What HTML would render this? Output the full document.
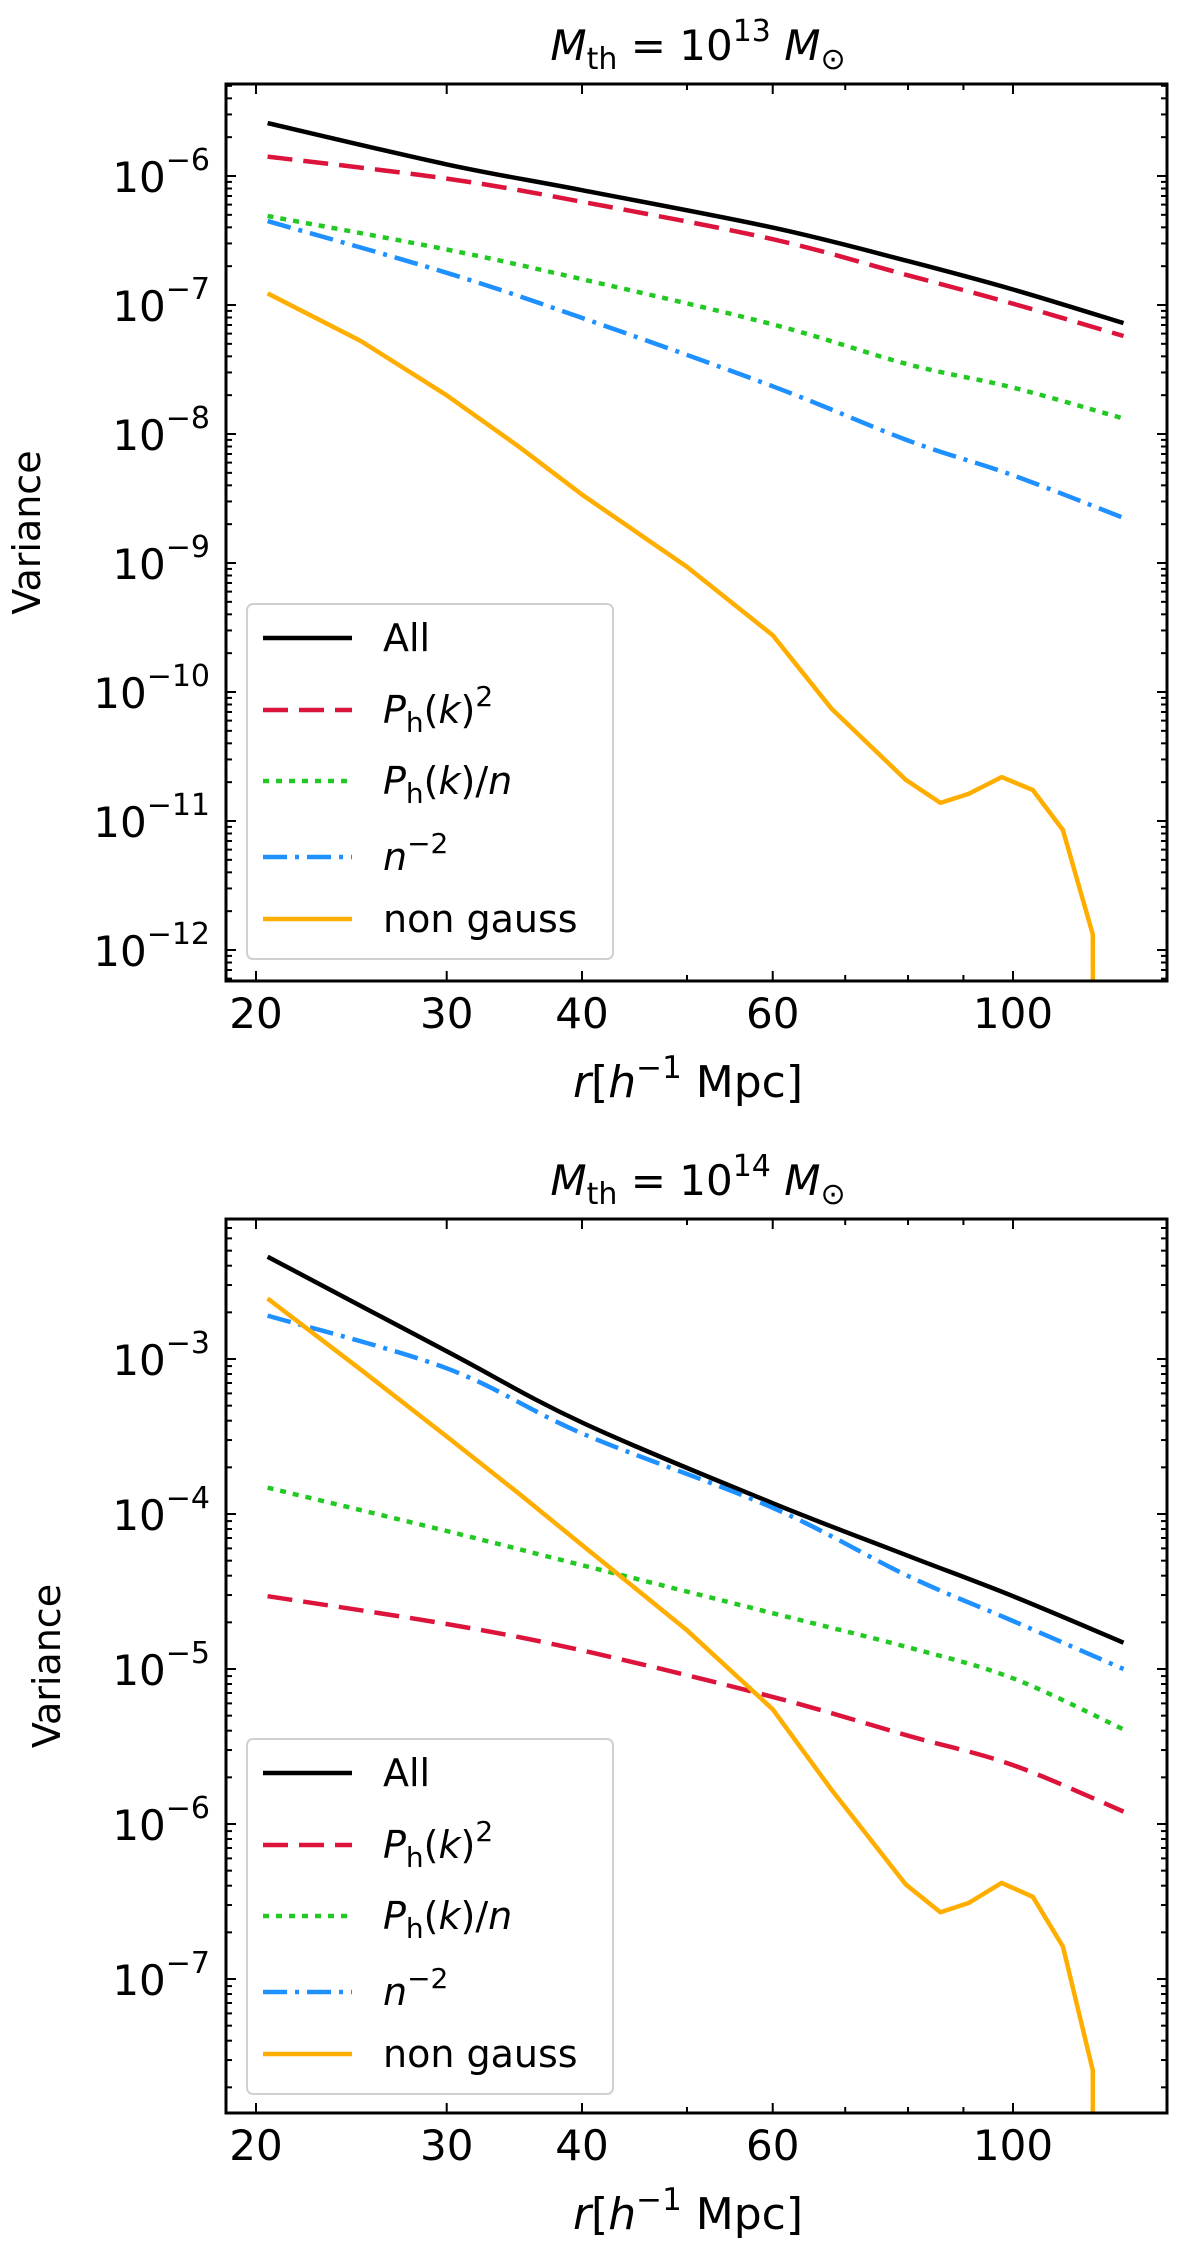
<!DOCTYPE html>
<html><head><meta charset="utf-8"><style>
html,body{margin:0;padding:0;background:#fff;width:1200px;height:2264px;overflow:hidden}
svg text{font-family:"DejaVu Sans","Liberation Sans",sans-serif;fill:#000}
</style></head><body>
<svg id="fig" width="1200" height="2264" viewBox="0 0 1200 2264" xmlns="http://www.w3.org/2000/svg"></svg>
<script>
const rGrid = [20.5, 30, 40, 60, 80, 100, 126.5];
const topAll = [-5.59, -5.91, -6.11, -6.40, -6.66, -6.88, -7.14];
const topPk2 = [-5.85, -6.02, -6.20, -6.49, -6.77, -6.99, -7.24];
const topPkn = [-6.31, -6.57, -6.80, -7.15, -7.46, -7.64, -7.88];
const topN2 = [-6.35, -6.75, -7.10, -7.63, -8.05, -8.32, -8.65];
const ngR = [20.5, 25, 30, 35, 40, 50, 60, 68, 79.6, 85.7, 91, 97.6, 104.3, 111.2, 118.5, 118.6];
const topNG = [-6.91, -7.28, -7.70, -8.10, -8.47, -9.03, -9.56, -10.13, -10.68, -10.86, -10.79, -10.66, -10.76, -11.07, -11.88, -13.5];
const botAll = [-2.34, -2.95, -3.41, -3.93, -4.27, -4.53, -4.83];
const botPk2 = [-4.53, -4.71, -4.88, -5.18, -5.43, -5.62, -5.92];
const botPkn = [-3.83, -4.11, -4.33, -4.64, -4.86, -5.06, -5.39];
const botN2 = [-2.72, -3.06, -3.48, -3.96, -4.40, -4.69, -5.00];
const botNG = [-2.61, -3.07, -3.50, -3.87, -4.20, -4.75, -5.26, -5.78, -6.39, -6.57, -6.51, -6.38, -6.47, -6.79, -7.59, -9.5];
const xTicks = [20, 30, 40, 60, 100];
const xMinor = [50, 70, 80, 90];
const topExps = [-6, -7, -8, -9, -10, -11, -12];
const botExps = [-3, -4, -5, -6, -7];

const NS = "http://www.w3.org/2000/svg";
const svg = document.getElementById('fig');
function mk(tag, attrs, parent){const e=document.createElementNS(NS,tag);for(const k in attrs)e.setAttribute(k,attrs[k]);(parent||svg).appendChild(e);return e;}
function smoothPath(P){
  let d='M'+P[0][0].toFixed(1)+','+P[0][1].toFixed(1);
  for(let i=0;i<P.length-1;i++){
    const p0=P[Math.max(0,i-1)],p1=P[i],p2=P[i+1],p3=P[Math.min(P.length-1,i+2)];
    const c1=[p1[0]+(p2[0]-p0[0])/6,p1[1]+(p2[1]-p0[1])/6];
    const c2=[p2[0]-(p3[0]-p1[0])/6,p2[1]-(p3[1]-p1[1])/6];
    d+=' C'+c1[0].toFixed(1)+','+c1[1].toFixed(1)+' '+c2[0].toFixed(1)+','+c2[1].toFixed(1)+' '+p2[0].toFixed(1)+','+p2[1].toFixed(1);
  }
  return d;
}

function panel(p){
  const g = mk('g',{});
  
  
  const L=226,R=1167,T=p.top,B=p.bottom;
  const xs = r => 256 + 1083*(Math.log10(r)-Math.log10(20));
  const ys = v => p.y0 - (v - p.e0)*p.dec;
  const clip = mk('clipPath',{id:'clip'+p.id},g);
  mk('rect',{x:L,y:T,width:R-L,height:B-T},clip);
  const lines = mk('g',{'clip-path':'url(#clip'+p.id+')'},g);
  const series = [
    {n:'series-non-gauss',x:ngR,v:p.ng,c:'#ffae00',d:'',sm:false},
    {n:'series-n-minus-2',x:rGrid,v:p.n2,c:'#1e90ff',d:'24,8,4,8',sm:true},
    {n:'series-ph-over-n',x:rGrid,v:p.pkn,c:'#22c922',d:'6,7',sm:true},
    {n:'series-ph-squared',x:rGrid,v:p.pk2,c:'#dc143c',d:'25,11',sm:true},
    {n:'series-all',x:rGrid,v:p.all,c:'#000000',d:'',sm:true}
  ];
  series.reverse().forEach(s=>{
    const P = s.x.map((r,i)=>[xs(r),ys(s.v[i])]);
    let el;
    if(s.sm){
      el = mk('path',{d:smoothPath(P),fill:'none',stroke:s.c,'stroke-width':4.5,'stroke-dasharray':s.d||'none'},lines);
    } else {
      el = mk('polyline',{points:P.map(q=>q[0].toFixed(1)+','+q[1].toFixed(1)).join(' '),fill:'none',stroke:s.c,'stroke-width':4.5,'stroke-linejoin':'round'},lines);
    }
    
    
  });
  const tk = mk('g',{stroke:'#000','stroke-width':2},g);
  xTicks.forEach(t=>{const x=xs(t);mk('line',{x1:x,y1:B,x2:x,y2:B-10},tk);mk('line',{x1:x,y1:T,x2:x,y2:T+10},tk);
    const tx=mk('text',{x:x,y:B+47,'font-size':42,'text-anchor':'middle'},g);tx.textContent=t;
    });
  xMinor.forEach(t=>{const x=xs(t);mk('line',{x1:x,y1:B,x2:x,y2:B-6},tk);mk('line',{x1:x,y1:T,x2:x,y2:T+6},tk);});
  for(let e=Math.floor(p.eMin);e<=Math.ceil(p.eMax);e++){
    for(let m=1;m<10;m++){const v=e+Math.log10(m);const y=ys(v);if(y<T||y>B)continue;
      const len=m===1?10:6;mk('line',{x1:L,y1:y,x2:L+len,y2:y},tk);mk('line',{x1:R,y1:y,x2:R-len,y2:y},tk);}
  }
  p.exps.forEach(e=>{const y=ys(e);const tx=mk('text',{x:210,y:y+16,'font-size':42,'text-anchor':'end'},g);
    tx.innerHTML='10<tspan dy="-22" font-size="30">\u2212'+(-e)+'</tspan>';
    });
  mk('rect',{x:L,y:T,width:R-L,height:B-T,fill:'none',stroke:'#000','stroke-width':3},g);
  const ti=mk('text',{x:698,y:T-24,'font-size':42,'text-anchor':'middle'},g);
  ti.innerHTML='<tspan font-style="italic">M</tspan><tspan font-size="30" dy="9">th</tspan><tspan dy="-9"> = 10</tspan><tspan font-size="30" dy="-19">'+p.mexp+'</tspan><tspan dy="19"> </tspan><tspan font-style="italic">M</tspan><tspan font-size="30" dy="9">\u2299</tspan>';
  
  const xl=mk('text',{x:688,y:B+116,'font-size':44,'text-anchor':'middle'},g);
  xl.innerHTML='<tspan font-style="italic">r</tspan>[<tspan font-style="italic">h</tspan><tspan font-size="31" dy="-19">\u22121</tspan><tspan dy="19"> Mpc]</tspan>';
  
  const yl=mk('text',{x:0,y:0,'font-size':38,'text-anchor':'middle',transform:'translate('+p.ylx+','+((T+B)/2)+') rotate(-90)'},g);
  yl.textContent='Variance';
  
  const lg=mk('g',{},g);
  
  mk('rect',{x:247,y:p.lt,width:366,height:355,rx:6,fill:'#fff','fill-opacity':0.85,stroke:'#d0d0d0','stroke-width':2},lg);
  const items=[['All','#000',''],['P<tspan font-size="28" dy="9" font-style="normal">h</tspan><tspan dy="-9" font-style="normal">(</tspan>k<tspan font-style="normal">)</tspan><tspan font-style="normal" font-size="28" dy="-17">2</tspan>','#dc143c','25,11'],
    ['P<tspan font-size="28" dy="9" font-style="normal">h</tspan><tspan dy="-9" font-style="normal">(</tspan>k<tspan font-style="normal">)/</tspan>n','#22c922','6,7'],
    ['n<tspan font-style="normal" font-size="28" dy="-17">\u22122</tspan>','#1e90ff','24,8,4,8'],['non gauss','#ffae00','']];
  const offs=[34,106,177,253,315];
  items.forEach((it,i)=>{const y=p.lt+offs[i];
    const ln=mk('line',{x1:263,y1:y,x2:352,y2:y,stroke:it[1],'stroke-width':4.5,'stroke-dasharray':it[2]||'none'},lg);
    
    const t=mk('text',{x:383,y:y+13,'font-size':38},lg);
    if(i===1||i===2||i===3){t.setAttribute('font-style','italic');}
    t.innerHTML=it[0];
    });
}
panel({id:1,name:'panel-mth-1e13',top:84,bottom:981,y0:176,e0:-6,dec:129,eMin:-13,eMax:-5,exps:topExps,mexp:'13',
  all:topAll,pk2:topPk2,pkn:topPkn,n2:topN2,ng:topNG,ylx:40,lt:604});
panel({id:2,name:'panel-mth-1e14',top:1219,bottom:2113,y0:1359,e0:-3,dec:155,eMin:-8,eMax:-2,exps:botExps,mexp:'14',
  all:botAll,pk2:botPk2,pkn:botPkn,n2:botN2,ng:botNG,ylx:60,lt:1739});
</script>
</body></html>
